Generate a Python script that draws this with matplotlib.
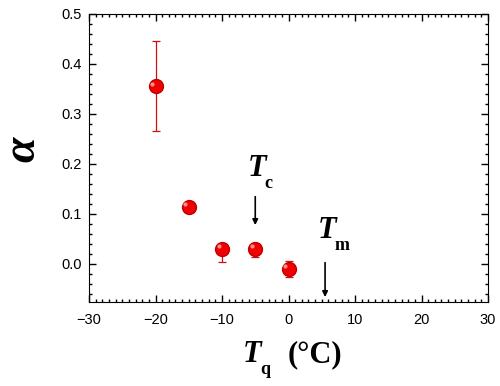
import numpy as np
import matplotlib.pyplot as plt
from matplotlib.ticker import MultipleLocator

plt.rcParams['mathtext.fontset'] = 'custom'
plt.rcParams['mathtext.rm'] = 'Liberation Serif:bold'
plt.rcParams['mathtext.it'] = 'Liberation Serif:bold:italic'

# quench temperature (C), alpha and errors
tq = [-20, -15, -10, -5, 0]
alpha = [0.355, 0.114, 0.030, 0.030, -0.010]
err_lo = [0.090, 0.004, 0.026, 0.016, 0.016]
err_hi = [0.090, 0.004, 0.010, 0.012, 0.016]

tc = -5
tm = 5.5

fig = plt.figure(figsize=(5, 3.86), dpi=100)
ax = fig.add_axes([0.178, 0.218, 0.798, 0.746])

ax.errorbar(tq, alpha, yerr=[err_lo, err_hi], fmt='none', ecolor='#d01010',
            elinewidth=0.9, capsize=3, capthick=0.9, zorder=2)
ax.plot(tq, alpha, 'o', color='#f00000', markeredgecolor='#c00000',
        markersize=10, zorder=3)
# small highlight on the spheres
ax.plot(np.array(tq) - 0.5, np.array(alpha) + 0.005, 'o', color='#ff9090',
        markersize=3, markeredgewidth=0, zorder=4)

ax.set_xlim(-30, 30)
ax.set_ylim(-0.076, 0.5)
ax.xaxis.set_major_locator(MultipleLocator(10))
ax.xaxis.set_minor_locator(MultipleLocator(1))
ax.yaxis.set_major_locator(MultipleLocator(0.1))
ax.yaxis.set_minor_locator(MultipleLocator(0.02))
ax.yaxis.set_major_formatter(plt.FuncFormatter(lambda v, p: f'{v:.1f}'))
ax.tick_params(which='both', direction='in', top=True, right=True,
               labelsize=10.5, width=1)
ax.tick_params(which='major', length=5)
ax.tick_params(which='minor', length=2.5)
ax.tick_params(axis='x', pad=8)
ax.tick_params(axis='y', pad=5)
for lab in ax.get_xticklabels() + ax.get_yticklabels():
    lab.set_family('Liberation Sans')

ax.set_ylabel(r'$\alpha$', fontsize=33)
ax.yaxis.set_label_coords(-0.11, 0.53)


def t_label(x, y, sub, coords='data'):
    ax.annotate('T', xy=(x, y), xycoords=coords, fontsize=22,
                family='Liberation Serif', weight='bold', style='italic',
                ha='left', va='baseline', annotation_clip=False)
    ax.annotate(sub, xy=(x, y), xycoords=coords, xytext=(12.5, -8.5),
                textcoords='offset points', fontsize=13,
                family='Liberation Serif', weight='bold',
                ha='left', va='baseline', annotation_clip=False)


# x axis label
t_label(0.386, -0.208, 'q', coords='axes fraction')
ax.annotate('(°C)', xy=(0.499, -0.208), xycoords='axes fraction', fontsize=22,
            family='Liberation Serif', weight='bold', ha='left', va='baseline',
            annotation_clip=False)

ax.annotate('', xy=(tc, 0.072), xytext=(tc, 0.14),
            arrowprops=dict(arrowstyle='-|>', color='black', lw=1.2,
                            mutation_scale=8))
t_label(-6.17, 0.176, 'c')

ax.annotate('', xy=(tm, -0.072), xytext=(tm, 0.008),
            arrowprops=dict(arrowstyle='-|>', color='black', lw=1.2,
                            mutation_scale=8))
t_label(4.36, 0.052, 'm')

fig.savefig('out.png', dpi=100)
